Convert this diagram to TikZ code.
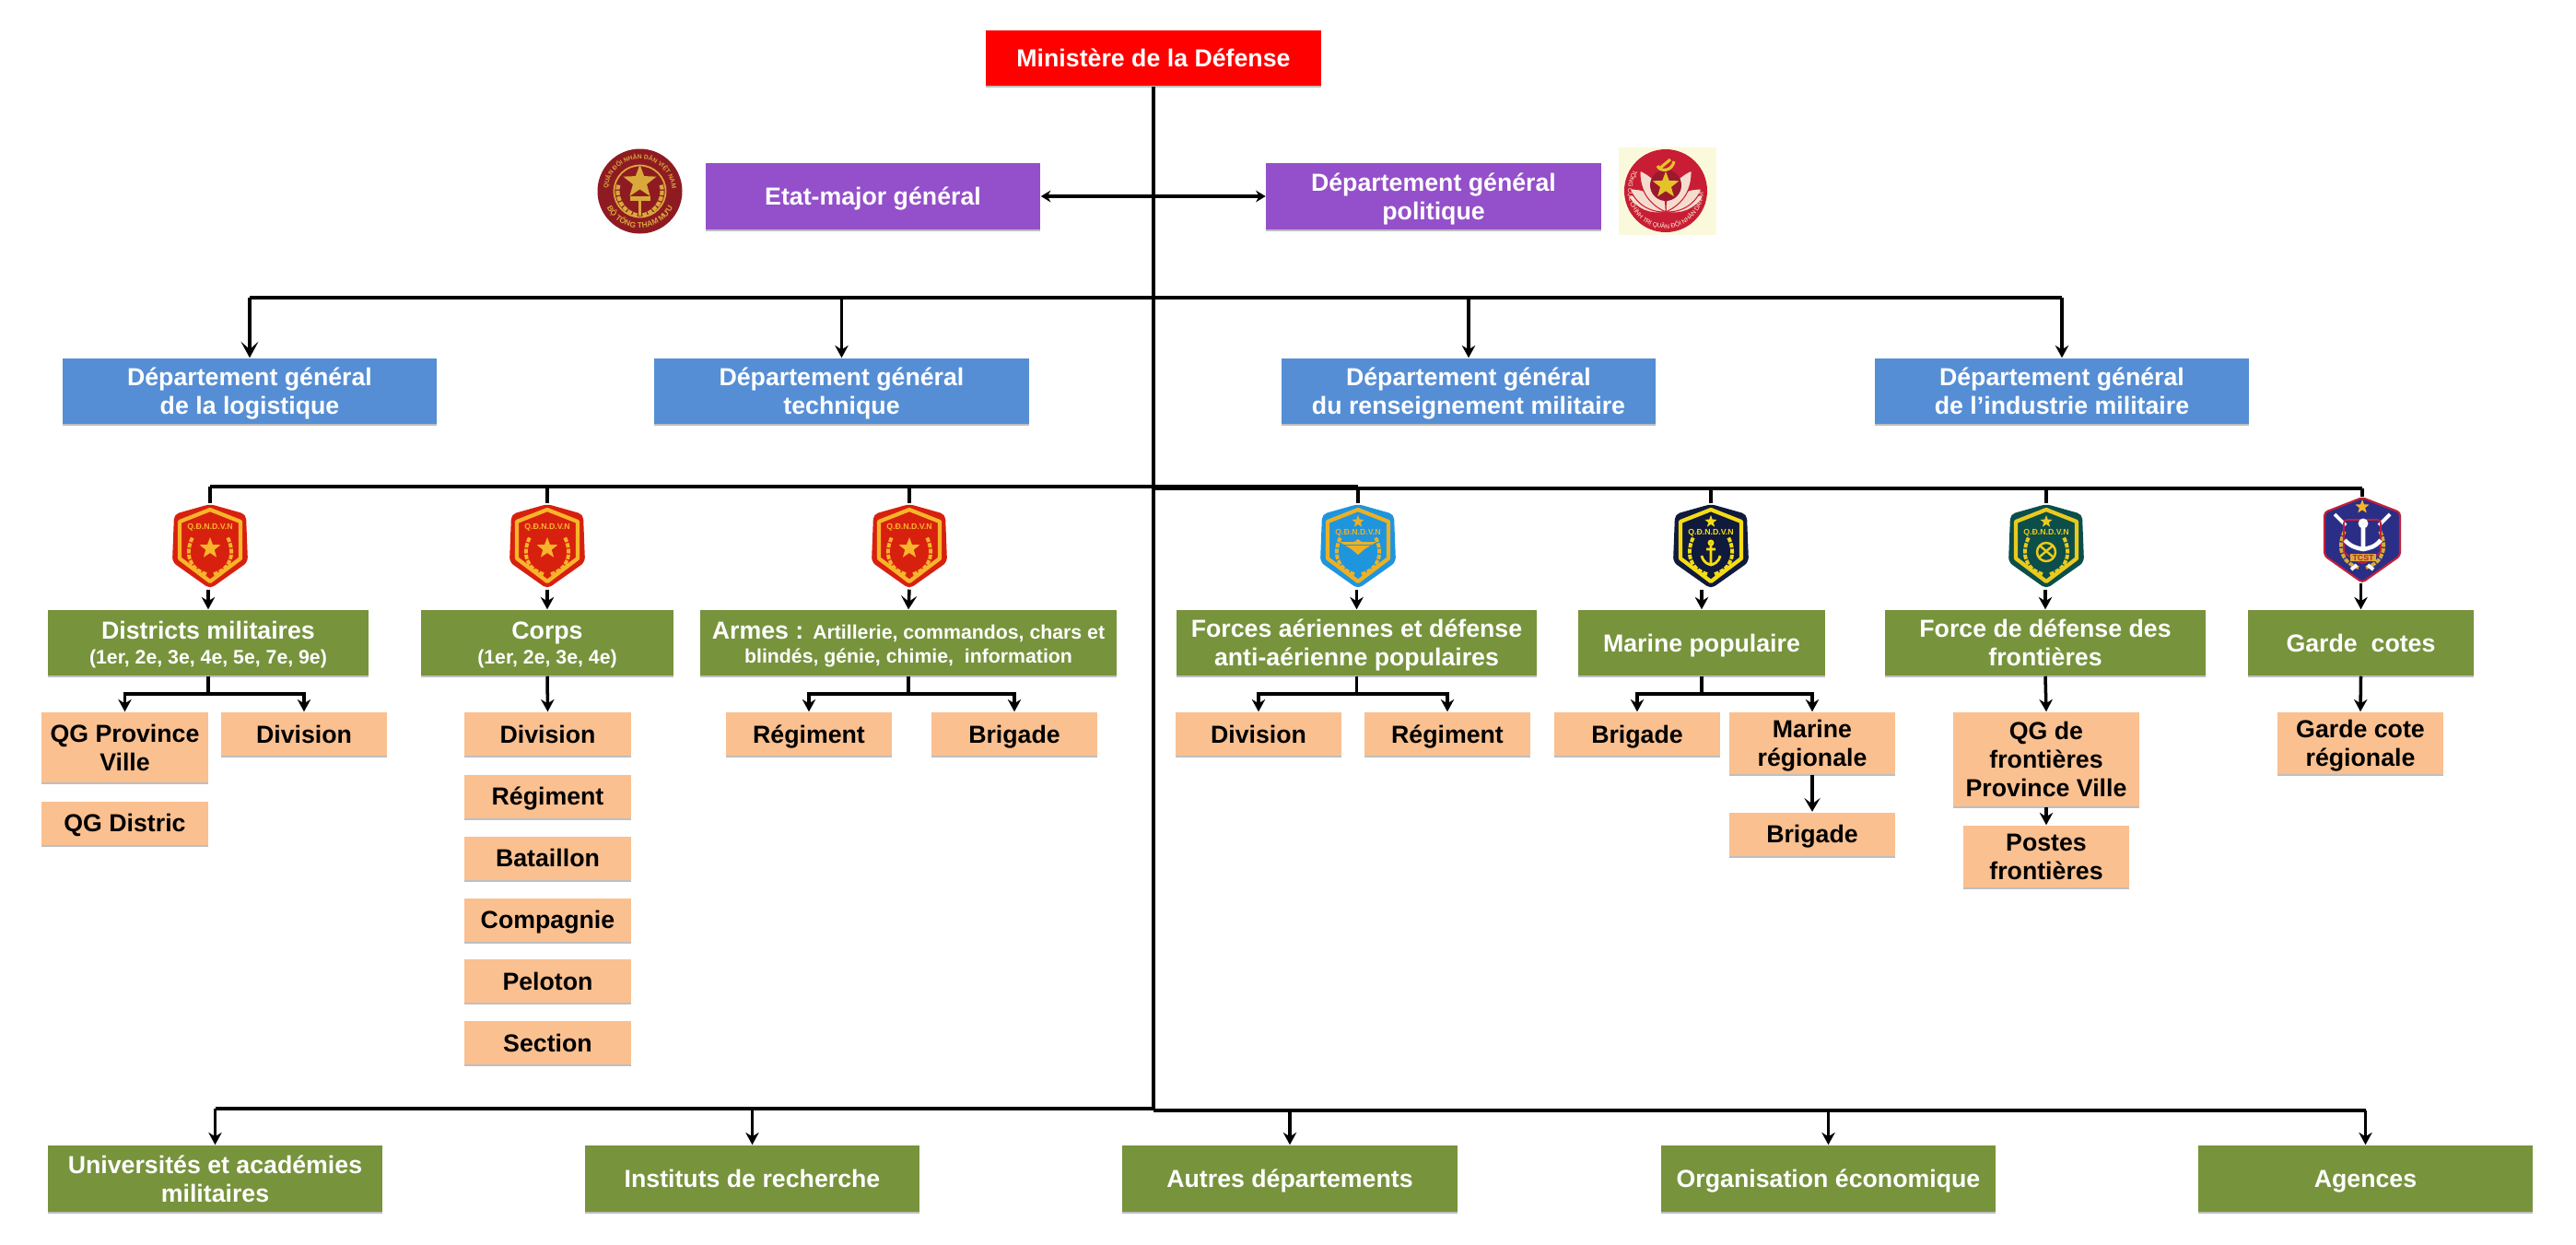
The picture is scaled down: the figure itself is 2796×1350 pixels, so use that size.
\documentclass[tikz,border=0pt]{standalone}
\usepackage{fontspec}
\setmainfont{Liberation Sans}
\usetikzlibrary{arrows.meta,shadows,shapes.geometric,decorations.text}

\definecolor{chiefred}{HTML}{FF0000}
\definecolor{purplebox}{HTML}{944FCA}
\definecolor{bluebox}{HTML}{558ED5}
\definecolor{greenbox}{HTML}{77933C}
\definecolor{peachbox}{HTML}{FAC090}
\definecolor{maroon}{HTML}{8E1B22}
\definecolor{gold}{HTML}{D9A93C}
\definecolor{redbadge}{HTML}{D8200F}
\definecolor{redtrim}{HTML}{F7B52A}
\definecolor{skybadge}{HTML}{1F95DE}
\definecolor{skytrim}{HTML}{EDB024}
\definecolor{navybadge}{HTML}{0F1A3C}
\definecolor{navytrim}{HTML}{F5DC14}
\definecolor{tealbadge}{HTML}{0B4E4A}
\definecolor{tealtrim}{HTML}{EBC91E}
\definecolor{indigobadge}{HTML}{2B2E86}
\definecolor{crimson}{HTML}{C2203A}
\definecolor{cream}{HTML}{FBF9DC}
\definecolor{petal}{HTML}{F6DCCF}

% shield of a badge: body colour, trim colour
\newcommand{\shield}[2]{
    \fill[#1, rounded corners=1.5pt] (0,-46) -- (39,-35) -- (41,17) -- (0,46) -- (-41,17) -- (-39,-35) -- cycle;
    \draw[#2, line width=1.2pt, line join=round] (0,-40) -- (33,-27) -- (33,13) -- (0,38) -- (-33,13) -- (-33,-27) -- cycle;
}
% two branches of laurel
\newcommand{\laurel}[1]{
    \foreach \side in {-1,1}
        \draw[#1, line width=1.1pt, dash pattern=on 1.4pt off 0.4pt] (\side*4,30) .. controls (\side*24,24) and (\side*27,6) .. (\side*19,-10);
}

\begin{document}
\begin{tikzpicture}[x=0.01cm,y=-0.01cm]
        \tikzstyle{every node} = [rectangle, inner sep=0pt, align=center]
        \tikzstyle{box} = [font=\bfseries\fontsize{7.6}{8.8}\selectfont, text depth=0pt, general shadow={fill=black!25, shadow yshift=-0.022cm}]
        \tikzstyle{chief} = [box, fill=chiefred, text=white, minimum width=3.63cm, minimum height=0.6cm]
        \tikzstyle{staff} = [box, fill=purplebox, text=white, minimum width=3.63cm, minimum height=0.72cm]
        \tikzstyle{dept} = [box, fill=bluebox, text=white, minimum width=4.06cm, minimum height=0.71cm]
        \tikzstyle{branch} = [box, fill=greenbox, text=white, minimum height=0.71cm]
        \tikzstyle{unit} = [box, fill=peachbox, text=black, minimum width=1.8cm, minimum height=0.47cm]
        \tikzstyle{agency} = [box, fill=greenbox, text=white, minimum width=3.63cm, minimum height=0.72cm]
        \tikzstyle{badge} = [minimum width=0.82cm, minimum height=0.92cm]
        \tikzstyle{badgetext} = [font=\bfseries\fontsize{2.5}{3}\selectfont]
        \tikzstyle{badgestar} = [star, star points=5, star point ratio=2.4]
        \tikzstyle{trunk} = [line width=1.25pt, black]
        \tikzstyle{arrow} = [line width=1pt, black, -{Stealth[length=3.8pt,width=4.1pt]}]
        \tikzstyle{barbed} = [line width=1pt, black, -{Stealth[length=4.2pt,width=4.9pt,inset=1.8pt]}]
        \tikzstyle{bigbarbed} = [line width=1pt, black, -{Stealth[length=5pt,width=5.4pt,inset=2.4pt]}]

        \useasboundingbox (0,0) rectangle (2796,1350);

        % top of the tree
        \node[chief] (minister) at (1252,63) {Ministère de la Défense};
        \node[staff] (etat) at (947.5,213) {Etat-major général};
        \node[staff] (polit) at (1556,213) {Département général\\politique};

        % general departments
        \node[dept] (logi) at (271,424.5) {Département général\\de la logistique};
        \node[dept] (tech) at (913.5,424.5) {Département général\\technique};
        \node[dept] (rens) at (1594,424.5) {Département général\\du renseignement militaire};
        \node[dept] (indu) at (2238,424.5) {Département général\\de l'industrie militaire};

        % badges
        \node[badge] (bdistr) at (228,593) {};
        \node[badge] (bcorps) at (594,593) {};
        \node[badge] (barmes) at (987,593) {};
        \node[badge] (bforces) at (1474,593) {};
        \node[badge] (bmarine) at (1857,593) {};
        \node[badge] (bfront) at (2221,593) {};
        \node[badge] (bgarde) at (2564,586) {};

        % branches
        \node[branch, minimum width=3.48cm] (distr) at (226,697.5) {Districts militaires\\[-1pt]{\fontsize{6.05}{8}\selectfont (1er, 2e, 3e, 4e, 5e, 7e, 9e)}};
        \node[branch, minimum width=2.74cm] (corps) at (594,697.5) {Corps\\[-1pt]{\fontsize{6.05}{8}\selectfont (1er, 2e, 3e, 4e)}};
        \node[branch, minimum width=4.52cm] (armes) at (986,697.5) {Armes : {\fontsize{6.05}{8}\selectfont Artillerie, commandos, chars et}\\[-1.5pt]{\fontsize{6.05}{8}\selectfont blindés, génie, chimie,\ \ information}};
        \node[branch, minimum width=3.91cm] (forces) at (1472.5,697.5) {Forces aériennes et défense\\anti-aérienne populaires};
        \node[branch, minimum width=2.68cm] (marine) at (1847,697.5) {Marine populaire};
        \node[branch, minimum width=3.48cm] (front) at (2220,697.5) {Force de défense des\\frontières};
        \node[branch, minimum width=2.45cm] (garde) at (2562.5,697.5) {Garde\ \ cotes};

        % units
        \node[unit, minimum height=0.76cm] (qgprov) at (135.5,811) {QG Province\\Ville};
        \node[unit] (divdistr) at (330,796.5) {Division};
        \node[unit] (qgdist) at (135.5,893) {QG Distric};
        \node[unit] (divcorps) at (594.5,796.5) {Division};
        \node[unit] (regcorps) at (594.5,864) {Régiment};
        \node[unit] (batcorps) at (594.5,931) {Bataillon};
        \node[unit] (comcorps) at (594.5,998) {Compagnie};
        \node[unit] (pelcorps) at (594.5,1064.5) {Peloton};
        \node[unit] (seccorps) at (594.5,1131.5) {Section};
        \node[unit] (regarmes) at (878,796.5) {Régiment};
        \node[unit] (brigarmes) at (1101,796.5) {Brigade};
        \node[unit] (divforces) at (1366,796.5) {Division};
        \node[unit] (regforces) at (1571,796.5) {Régiment};
        \node[unit] (brigmar) at (1777,796.5) {Brigade};
        \node[unit, minimum height=0.67cm] (marreg) at (1967,806.5) {Marine\\régionale};
        \node[unit] (brigreg) at (1967,905) {Brigade};
        \node[unit, minimum width=2.02cm, minimum height=1.02cm] (qgfront) at (2221,824) {QG de\\frontières\\Province Ville};
        \node[unit, minimum height=0.67cm] (postes) at (2221,929.5) {Postes\\frontières};
        \node[unit, minimum height=0.67cm] (garreg) at (2562,806.5) {Garde cote\\régionale};

        % bottom row
        \node[agency] (univ) at (233.5,1279) {Universités et académies\\militaires};
        \node[agency] (inst) at (816.5,1279) {Instituts de recherche};
        \node[agency] (autres) at (1400,1279) {Autres départements};
        \node[agency] (orga) at (1984.5,1279) {Organisation économique};
        \node[agency] (agen) at (2567.5,1279) {Agences};

        \coordinate (busdept) at (1252,323);
        \coordinate (busleft) at (1252,528);
        \coordinate (busright) at (1252,530);
        \coordinate (busbotleft) at (1252,1203);
        \coordinate (busbotright) at (1252,1205);
        \coordinate (busunit) at (0,753);

        % main lines
        \draw[trunk] (minister.south) -- (busbotright);
        \draw[line width=1.2pt, {Stealth[length=3pt,width=3.6pt]}-{Stealth[length=3pt,width=3.6pt]}] (etat.east) -- (polit.west);
        \foreach \to in {logi, tech, rens, indu}
            \draw[trunk] (busdept) -- (busdept -| \to);
        \draw[bigbarbed] (busdept -| logi) -- (logi.north);
        \foreach \to in {tech, rens, indu}
            \draw[arrow] (busdept -| \to) -- (\to.north);
        \foreach \bus/\to in {busleft/bdistr, busleft/bcorps, busleft/barmes, busleft/bforces, busright/bmarine, busright/bfront, busright/bgarde} {
            \draw[trunk] (\bus) -- (\bus -| \to);
            \draw[line width=1.1pt] (\bus -| \to) -- (\to.north);
        }
        \foreach \bus/\to in {busbotleft/univ, busbotleft/inst, busbotright/autres, busbotright/orga, busbotright/agen} {
            \draw[trunk] (\bus) -- (\bus -| \to);
            \draw[arrow] (\bus -| \to) -- (\to.north);
        }
        % badge to branch
        \foreach \from/\to in {bdistr/distr, bcorps/corps, bforces/forces, bmarine/marine, bfront/front, bgarde/garde}
            \draw[arrow] (\from.south -| \to) -- (\to.north);
        \draw[barbed] (barmes.south) -- (armes.north);
        % branch to units
        \foreach \from/\to in {distr/qgprov, distr/divdistr, armes/regarmes, armes/brigarmes, forces/divforces, forces/regforces, marine/brigmar, marine/marreg}
            \draw[arrow] (\from.south) -- (\from.south |- busunit) -| (\to.north);
        \foreach \from/\to in {corps/divcorps, front/qgfront, garde/garreg, qgfront/postes}
            \draw[arrow] (\from.south) -- (\to.north);
        \draw[barbed] (marreg.south) -- (brigreg.north);

        % red badges
        \foreach \b in {bdistr, bcorps, barmes} {
            \begin{scope}[shift={(\b.center)}]
                \shield{redbadge}{redtrim}
                \laurel{redtrim}
                \node[badgestar, fill=redtrim, minimum size=0.24cm] (\b star) at (0,2) {};
                \node[badgetext, text=redtrim] (\b text) at (0,-21) {Q.Đ.N.D.V.N};
            \end{scope}
        }
        % air force badge
        \begin{scope}[shift={(bforces.center)}]
            \shield{skybadge}{skytrim}
            \laurel{skytrim}
            \fill[skytrim] (-20,-5) -- (-4,-5) -- (0,-8) -- (4,-5) -- (20,-5) -- (7,3) -- (0,9) -- (-7,3) -- cycle;
            \draw[skybadge, line width=0.25pt] (-15,-2) -- (15,-2);
            \node[badgestar, fill=skytrim, minimum size=0.14cm] (bforces star) at (0,-27) {};
            \node[badgetext, text=skytrim] (bforces text) at (0,-15) {Q.Đ.N.D.V.N};
        \end{scope}
        % navy badge
        \begin{scope}[shift={(bmarine.center)}]
            \shield{navybadge}{navytrim}
            \laurel{navytrim}
            \draw[navytrim, line width=0.8pt] (0,-4) circle (2) (0,-2) -- (0,20) (-10,10) .. controls (-8,18) and (-3,19) .. (0,20) .. controls (3,19) and (8,18) .. (10,10) (-5,3) -- (5,3);
            \node[badgestar, fill=navytrim, minimum size=0.14cm] (bmarine star) at (0,-27) {};
            \node[badgetext, text=navytrim] (bmarine text) at (0,-15) {Q.Đ.N.D.V.N};
        \end{scope}
        % border guard badge
        \begin{scope}[shift={(bfront.center)}]
            \shield{tealbadge}{tealtrim}
            \laurel{tealtrim}
            \draw[tealtrim, line width=0.7pt] (0,6) circle (10) (-6,0) -- (7,11) (6,0) -- (-7,11);
            \node[badgestar, fill=tealtrim, minimum size=0.14cm] (bfront star) at (0,-27) {};
            \node[badgetext, text=tealtrim] (bfront text) at (0,-15) {Q.Đ.N.D.V.N};
        \end{scope}
        % coast guard badge
        \begin{scope}[shift={(bgarde.center)}]
            \fill[indigobadge, draw=crimson, line width=0.6pt, rounded corners=1pt] (0,-46) -- (41,-30) -- (41,17) -- (0,46) -- (-41,17) -- (-41,-30) -- cycle;
            \laurel{gold}
            \draw[white, line width=1.1pt] (-30,-28) -- (-18,-16) (30,-28) -- (18,-16) (-12,32) -- (-6,27) (12,32) -- (6,27);
            \draw[crimson, line width=0.5pt, rounded corners=1pt] (-20,-22) -- (20,-22) -- (20,14) -- (0,26) -- (-20,14) -- cycle;
            \draw[white, line width=1.3pt] (1,-18) circle (3) (1,-15) -- (1,10) (-19,0) .. controls (-12,8) and (-4,9) .. (1,10) .. controls (6,9) and (14,8) .. (20,0);
            \fill[gold] (-13,15) rectangle (15,23);
            \node[badgestar, fill=redtrim, minimum size=0.16cm] (bgarde star) at (0,-36) {};
            \node[badgetext, text=crimson] (bgarde text) at (1,19) {TCST};
        \end{scope}

        % emblem of the general staff
        \begin{scope}[shift={(694.5,207.5)}]
            \fill[maroon] (0,0) circle (46);
            \draw[gold, line width=0.5pt] (0,0) circle (28);
            \path[postaction={decorate}, decoration={text along path, text align=center, text={|\bfseries\fontsize{1.9}{3}\selectfont\color{gold}|QUÂN ĐỘI NHÂN DÂN VIỆT NAM}}] (-35,0) arc[start angle=180, end angle=360, radius=35];
            \path[postaction={decorate}, decoration={text along path, text align=center, text={|\bfseries\fontsize{2.4}{3}\selectfont\color{gold}|BỘ TỔNG THAM MƯU}}] (-40,0) arc[start angle=180, end angle=0, radius=40];
            \node[badgestar, fill=gold, minimum size=0.38cm] (staffstar) at (0,-10) {};
            \draw[gold, line width=1.2pt, dash pattern=on 1.4pt off 0.4pt] (-3,26) .. controls (-20,22) and (-27,5) .. (-23,-8) (3,26) .. controls (20,22) and (27,5) .. (23,-8);
            \fill[gold] (-11,5) rectangle (11,10);
            \draw[gold, line width=0.6pt] (0,10) -- (0,26);
        \end{scope}

        % emblem of the political department
        \fill[cream] (1757,160) rectangle (1863,255);
        \begin{scope}[shift={(1808,207)}]
            \fill[crimson!90!red] (0,0) circle (45);
            \foreach \flip in {-1,1}
                \foreach \tx/\ty in {-41/6, -39/-2, -28/-22}
                    \fill[petal, draw=crimson!90!red, line width=0.3pt, xscale=\flip] (0,23) to[bend left=34] (\tx,\ty) to[bend left=34] (0,23);
            \fill[crimson!80!black] (0,-6) circle (17);
            \node[badgestar, fill=gold!70!yellow, minimum size=0.3cm] (politstar) at (0,-6) {};
            \draw[gold!70!yellow, line width=0.9pt] (-9,-27) .. controls (-6,-20) and (7,-21) .. (9,-32) (-7,-24) -- (5,-34);
            \path[postaction={decorate}, decoration={text along path, text align=center, text={|\fontsize{1.9}{3}\selectfont\color{cream}|TỔNG CỤC CHÍNH TRỊ QUÂN ĐỘI NHÂN DÂN VIỆT NAM}}] (-41,0) arc[start angle=180, end angle=0, radius=41];
        \end{scope}
\end{tikzpicture}
\end{document}
